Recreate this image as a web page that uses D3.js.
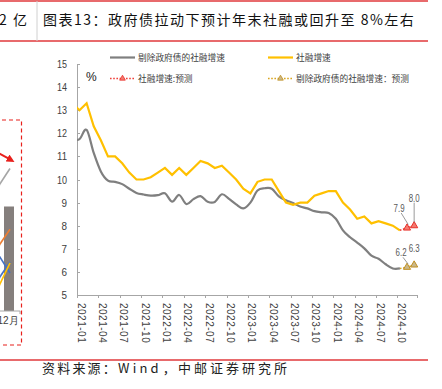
<!DOCTYPE html>
<html>
<head>
<meta charset="UTF-8">
<title>图表13：政府债拉动下预计年末社融或回升至8%左右</title>
<script src="https://cdn.jsdelivr.net/npm/d3@7"></script>
<style>
  body { margin: 0; background: #fff; }
  svg { display: block; }
  .cjk { font-family: "Noto Sans CJK SC", sans-serif; }
  .num { font-family: "Liberation Sans Narrow", "Liberation Sans", Arial, sans-serif; }
  .axis path, .axis line { stroke: #a6a6a6; shape-rendering: crispEdges; }
  .axis text { fill: #404040; font-family: "Liberation Sans Narrow", "Liberation Sans", Arial, sans-serif; }
</style>
</head>
<body>
<svg width="442" height="389"></svg>
<script>
// monthly, first value is 2020-12, last actual is 2024-10
const firstMonth = "2020-12";
const tsfGrowth = [13.3,
  13.0, 13.3, 12.3, 11.7, 11.0, 11.0, 10.7, 10.3, 10.0, 10.0, 10.1, 10.3,
  10.5, 10.2, 10.5, 10.2, 10.5, 10.8, 10.7, 10.5, 10.6, 10.3, 10.0, 9.6,
  9.4, 9.9, 10.0, 10.0, 9.5, 9.0, 8.9, 9.0, 9.0, 9.3, 9.4, 9.5,
  9.5, 9.0, 8.7, 8.3, 8.4, 8.1, 8.2, 8.1, 8.0, 7.8];
const tsfExGovGrowth = [11.75,
  11.75, 12.15, 11.15, 10.35, 9.95, 9.9, 9.8, 9.6, 9.42, 9.35, 9.3, 9.32,
  9.4, 9.04, 9.33, 8.94, 9.15, 9.28, 9.04, 9.03, 9.36, 9.16, 8.92, 8.75,
  9.0, 9.52, 9.62, 9.6, 9.27, 9.1, 8.98, 8.83, 8.75, 8.63, 8.58, 8.55,
  8.3, 7.8, 7.5, 7.27, 7.02, 6.7, 6.57, 6.33, 6.15, 6.15];
// 2024-11, 2024-12
const tsfForecast = [7.9, 8.0];
const exGovForecast = [6.2, 6.3];

const tickLabels = ["2021-01","2021-04","2021-07","2021-10","2022-01","2022-04","2022-07","2022-10",
  "2023-01","2023-04","2023-07","2023-10","2024-01","2024-04","2024-07","2024-10"];
const yTicks = [5, 6, 7, 8, 9, 10, 11, 12, 13, 14, 15];

// cut-off neighbour chart on the left
const fragCats = ["11月", "12月"];
const fragBar = [50, 55];
const fragLines = [
  { color: "#a5a5a5", values: [59, 75] },
  { color: "#ed7d31", values: [27.5, 43] },
  { color: "#4472c4", values: [36.6, 20] },
  { color: "#4472c4", values: [10.3, 25.8] },
  { color: "#ffc000", values: [3.2, 25.3] }
];

const svg = d3.select("svg");

// ---------- frame: title, rules, source ----------
svg.append("line").attr("x1", 0).attr("x2", 428).attr("y1", 1).attr("y2", 1)
  .attr("stroke", "#e0383b").attr("stroke-width", 1.5);
svg.append("line").attr("x1", 0).attr("x2", 428).attr("y1", 41).attr("y2", 41)
  .attr("stroke", "#e0383b").attr("stroke-width", 1.5);
svg.append("line").attr("x1", 37).attr("x2", 37).attr("y1", 1).attr("y2", 41)
  .attr("stroke", "#d0d0d0").attr("stroke-width", 1);
svg.append("text").attr("class", "cjk").attr("x", -1).attr("y", 24.5)
  .attr("font-size", 14).attr("letter-spacing", 1.5).attr("fill", "#111")
  .text("2 亿");
svg.append("text").attr("class", "cjk").attr("x", 43).attr("y", 24.5)
  .attr("font-size", 14).attr("letter-spacing", 1.5).attr("fill", "#111")
  .text("图表13：政府债拉动下预计年末社融或回升至 8%左右");

svg.append("line").attr("x1", 0).attr("x2", 428).attr("y1", 360).attr("y2", 360)
  .attr("stroke", "#e0383b").attr("stroke-width", 1.5);
const src = svg.append("text").attr("class", "cjk").attr("x", 42).attr("y", 373)
  .attr("font-size", 13).attr("letter-spacing", 2.2).attr("fill", "#222");
src.append("tspan").text("资料来源：");
src.append("tspan").attr("letter-spacing", 3.2).text("Wind");
src.append("tspan").attr("dx", 1).text("，");
src.append("tspan").attr("letter-spacing", 3).text("中邮证券研究所");

// ---------- left fragment ----------
const fx = d3.scaleLinear().domain([0, 1]).range([-11, 9]);
const fy = d3.scaleLinear().domain([0, 100]).range([311, 121]);
const frag = svg.append("g");
frag.selectAll("rect.fbar").data(fragBar).enter().append("rect")
  .attr("class", "fbar")
  .attr("x", (d, i) => fx(i) - 5).attr("width", 10)
  .attr("y", d => fy(d)).attr("height", d => fy(0) - fy(d))
  .attr("fill", "#857f7d");
fragLines.forEach(s => {
  frag.append("path")
    .attr("d", d3.line().x((d, i) => fx(i) + 1).y(d => fy(d))(s.values))
    .attr("fill", "none").attr("stroke", s.color).attr("stroke-width", 1.6);
});
frag.append("line").attr("x1", 0).attr("x2", 20).attr("y1", fy(0)).attr("y2", fy(0))
  .attr("stroke", "#a6a6a6");
frag.append("line").attr("x1", 20).attr("x2", 20).attr("y1", fy(0)).attr("y2", fy(0) + 3)
  .attr("stroke", "#a6a6a6");
frag.append("text").attr("class", "num").attr("x", fx(1) - 1).attr("y", 324)
  .attr("text-anchor", "middle").attr("font-size", 10).attr("fill", "#404040")
  .text(fragCats[1]);
svg.append("defs").append("marker").attr("id", "arrow")
  .attr("viewBox", "0 0 10 10").attr("refX", 5).attr("refY", 5)
  .attr("markerWidth", 4).attr("markerHeight", 4).attr("orient", "auto")
  .append("path").attr("d", "M0,0L10,5L0,10z").attr("fill", "#e8201c");
frag.append("line")
  .attr("x1", fx(0.5)).attr("y1", fy(83)).attr("x2", fx(1.1)).attr("y2", fy(79.5))
  .attr("stroke", "#e8201c").attr("stroke-width", 2).attr("marker-end", "url(#arrow)");
frag.append("rect").attr("x", -5).attr("y", 120).attr("width", 26.5).attr("height", 225)
  .attr("fill", "none").attr("stroke", "#e8201c").attr("stroke-width", 1.2)
  .attr("stroke-dasharray", "4,3");

// ---------- main chart ----------
const monthIndex = s => { const p = s.split("-").map(Number); return (p[0] - 2021) * 12 + p[1] - 1; };
const x = d3.scaleLinear().domain([0, 47.75]).range([77, 417]);
const y = d3.scaleLinear().domain([5, 15]).range([295, 64]);
const start = monthIndex(firstMonth);
const px = i => x(start + i + 0.35);

const yAxis = d3.axisLeft(y).tickValues(yTicks).tickSizeInner(-3).tickSizeOuter(0).tickPadding(10);
const gy = svg.append("g").attr("class", "axis").attr("transform", "translate(77,0)").call(yAxis);
gy.selectAll("text").attr("font-size", 11).attr("textLength", d => d >= 10 ? 10 : 5.5)
  .attr("lengthAdjust", "spacingAndGlyphs");

const xAxis = d3.axisBottom(x).tickValues(tickLabels.map(monthIndex))
  .tickFormat((d, i) => tickLabels[i]).tickSizeInner(3).tickSizeOuter(3);
const gx = svg.append("g").attr("class", "axis").attr("transform", "translate(0,295)").call(xAxis);
gx.selectAll("text")
  .attr("x", 0).attr("y", 0).attr("dy", null)
  .attr("transform", "translate(0,8) rotate(90)")
  .attr("text-anchor", "start").attr("font-size", 10).attr("letter-spacing", 0.5);

svg.append("text").attr("x", 86).attr("y", 80.5).attr("font-size", 12)
  .attr("font-family", "Liberation Sans, Arial, sans-serif").attr("fill", "#222").text("%");

svg.append("clipPath").attr("id", "plot").append("rect")
  .attr("x", 77).attr("y", 40).attr("width", 350).attr("height", 260);
const plot = svg.append("g").attr("clip-path", "url(#plot)");

plot.append("path")
  .attr("d", d3.line().x((d, i) => px(i)).y(d => y(d)).curve(d3.curveCardinal.tension(0))(tsfExGovGrowth))
  .attr("fill", "none").attr("stroke", "#7f7f7f").attr("stroke-width", 2.2);
plot.append("path")
  .attr("d", d3.line().x((d, i) => px(i)).y(d => y(d))(tsfGrowth))
  .attr("fill", "none").attr("stroke", "#ffc000").attr("stroke-width", 2.2);

const forecasts = [
  { base: tsfGrowth, values: tsfForecast, line: "#f0403a", fill: "#f47a70", stroke: "#e8302a",
    labels: [[-8, -20, true], [0, -28, true]] },
  { base: tsfExGovGrowth, values: exGovForecast, line: "#d9a520", fill: "#c9b88c", stroke: "#c09020",
    labels: [[-6, -15, true], [0, -17, false]] }
];
const triangle = d3.symbol().type(d3.symbolTriangle).size(22);
forecasts.forEach(f => {
  const i0 = f.base.length - 1;
  const pts = [[i0, f.base[i0]]].concat(f.values.map((v, k) => [i0 + 1 + k, v]));
  plot.append("path")
    .attr("d", d3.line().x(d => px(d[0])).y(d => y(d[1]))(pts))
    .attr("fill", "none").attr("stroke", f.line).attr("stroke-width", 1.6)
    .attr("stroke-dasharray", "1.6,1.6");
  f.values.forEach((v, k) => {
    const cx = px(i0 + 1 + k), cy = y(v);
    svg.append("path").attr("d", triangle).attr("transform", `translate(${cx},${cy})`)
      .attr("fill", f.fill).attr("stroke", f.stroke).attr("stroke-width", 1);
    const [dx, dy, leader] = f.labels[k];
    if (leader) {
      const len = Math.hypot(dx, dy);
      svg.append("line")
        .attr("x1", cx + dx * (1 - 4 / len) * 0.9).attr("y1", cy + dy + 5)
        .attr("x2", cx - dx * 0.15).attr("y2", cy - 3.5)
        .attr("stroke", "#7f7f7f").attr("stroke-width", 0.8);
    }
    svg.append("text").attr("class", "num")
      .attr("x", cx + dx - 5.5).attr("y", cy + dy).attr("dy", "0.35em")
      .attr("font-size", 11).attr("textLength", 11).attr("lengthAdjust", "spacingAndGlyphs")
      .attr("fill", "#595959").text(v.toFixed(1));
  });
});

// ---------- legend ----------
const legend = [
  { label: "剔除政府债的社融增速", color: "#7f7f7f", x: 110, y: 57.5 },
  { label: "社融增速", color: "#ffc000", x: 268, y: 57.5 },
  { label: "社融增速:预测", color: "#f0403a", x: 110, y: 78.5, dotted: true, fill: "#f47a70", stroke: "#e8302a" },
  { label: "剔除政府债的社融增速：预测", color: "#d9a520", x: 268, y: 78.5, dotted: true, fill: "#c9b88c", stroke: "#c09020" }
];
const lg = svg.append("g").selectAll("g").data(legend).enter().append("g")
  .attr("transform", d => `translate(${d.x},${d.y})`);
lg.append("line").attr("x1", 0).attr("x2", 25).attr("y1", 0).attr("y2", 0)
  .attr("stroke", d => d.color).attr("stroke-width", d => d.dotted ? 1.6 : 2.2)
  .attr("stroke-dasharray", d => d.dotted ? "1.6,1.6" : null);
lg.filter(d => d.dotted).append("path").attr("d", d3.symbol().type(d3.symbolTriangle).size(14))
  .attr("transform", "translate(12.5,0)")
  .attr("fill", d => d.fill).attr("stroke", d => d.stroke).attr("stroke-width", 0.8);
lg.append("text").attr("class", "cjk").attr("x", 28).attr("y", 0).attr("dy", "0.36em")
  .attr("font-size", 8.7).attr("fill", "#404040").text(d => d.label);
</script>
</body>
</html>
